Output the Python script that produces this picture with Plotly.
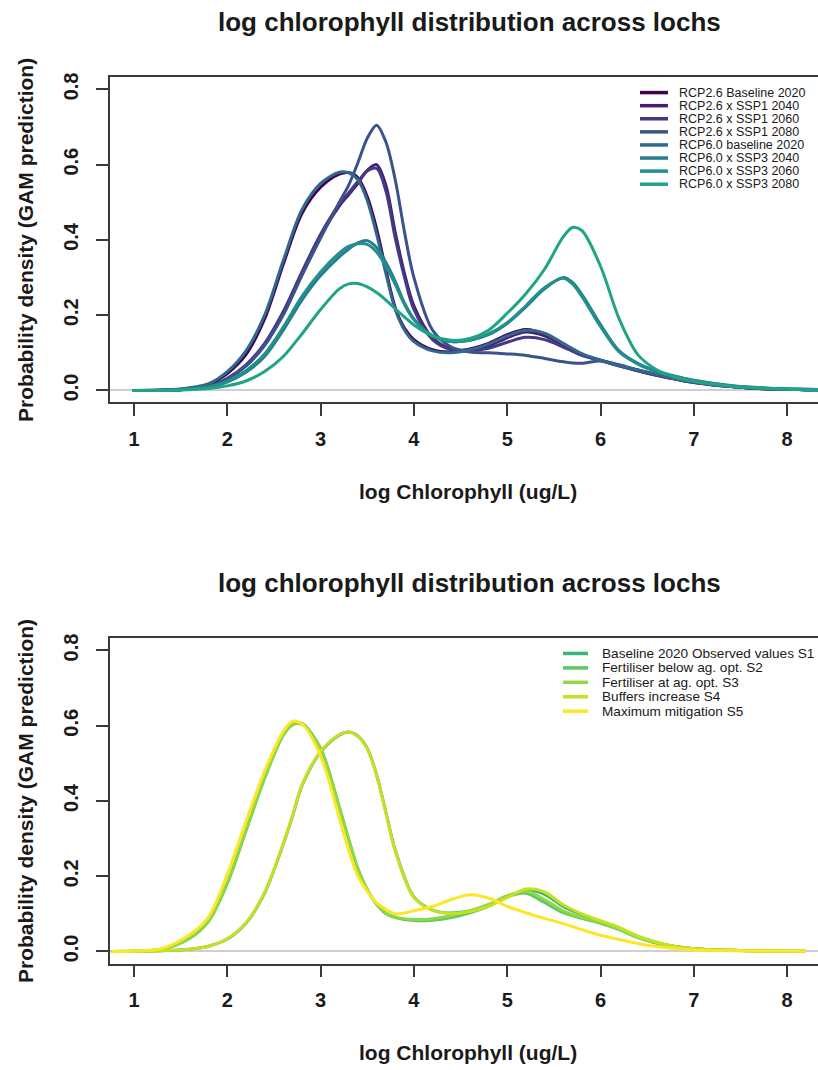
import plotly.graph_objects as go

# ---------------- data: upper panel (climate scenarios) ----------------
TOP_X = [0.98, 1.5, 1.8, 2.0, 2.2, 2.4, 2.6, 2.8, 3.0, 3.2, 3.3, 3.4, 3.5, 3.6, 3.7,
         3.8, 3.9, 4.0, 4.2, 4.4, 4.6, 4.8, 5.0, 5.2, 5.4, 5.6, 5.7, 5.8, 6.0, 6.2, 6.4,
         6.6, 6.8, 7.0, 7.4, 7.8, 8.2, 8.6]

TOP_NAMES = ["RCP2.6 Baseline 2020", "RCP2.6 x SSP1 2040", "RCP2.6 x SSP1 2060",
             "RCP2.6 x SSP1 2080", "RCP6.0 baseline 2020", "RCP6.0 x SSP3 2040",
             "RCP6.0 x SSP3 2060", "RCP6.0 x SSP3 2080"]

rcp26_base = [0.0, 0.003, 0.016, 0.045, 0.095, 0.19, 0.335, 0.47, 0.54, 0.575, 0.579, 0.565,
              0.515, 0.43, 0.32, 0.22, 0.165, 0.135, 0.108, 0.102, 0.11, 0.125, 0.148, 0.162,
              0.15, 0.12, 0.107, 0.095, 0.08, 0.066, 0.054, 0.043, 0.031, 0.022, 0.01, 0.004,
              0.002, 0.001]
rcp26_ssp1_2040 = [0.0, 0.002, 0.01, 0.03, 0.065, 0.12, 0.205, 0.31, 0.41, 0.49, 0.52, 0.55,
                   0.585, 0.60, 0.545, 0.42, 0.31, 0.225, 0.14, 0.11, 0.108, 0.118, 0.14, 0.155,
                   0.145, 0.12, 0.107, 0.095, 0.08, 0.066, 0.052, 0.04, 0.03, 0.021, 0.01, 0.004,
                   0.002, 0.001]
rcp26_ssp1_2060 = [0.0, 0.002, 0.01, 0.032, 0.068, 0.125, 0.21, 0.315, 0.415, 0.495, 0.525, 0.555,
                   0.583, 0.59, 0.53, 0.405, 0.3, 0.215, 0.135, 0.108, 0.105, 0.112, 0.128, 0.141,
                   0.135, 0.115, 0.104, 0.093, 0.079, 0.065, 0.052, 0.04, 0.03, 0.021, 0.01, 0.004,
                   0.002, 0.001]
rcp26_ssp1_2080 = [0.0, 0.002, 0.01, 0.03, 0.065, 0.12, 0.2, 0.305, 0.405, 0.5, 0.545, 0.605,
                   0.67, 0.705, 0.66, 0.56, 0.42, 0.3, 0.16, 0.115, 0.102, 0.1, 0.097, 0.093,
                   0.085, 0.076, 0.073, 0.072, 0.078, 0.068, 0.054, 0.042, 0.031, 0.022, 0.01,
                   0.004, 0.002, 0.001]
rcp60_base = [0.0, 0.004, 0.018, 0.05, 0.105, 0.2, 0.345, 0.48, 0.55, 0.58, 0.578, 0.56,
              0.505, 0.415, 0.31, 0.215, 0.16, 0.13, 0.105, 0.1, 0.108, 0.123, 0.145, 0.16,
              0.152, 0.125, 0.111, 0.098, 0.08, 0.066, 0.054, 0.043, 0.031, 0.022, 0.01, 0.004,
              0.002, 0.001]
rcp60_ssp3_2040 = [0.0, 0.002, 0.008, 0.022, 0.048, 0.09, 0.16, 0.24, 0.305, 0.355, 0.375, 0.392,
                   0.398, 0.38, 0.34, 0.29, 0.232, 0.19, 0.145, 0.13, 0.133, 0.148, 0.178, 0.222,
                   0.27, 0.3, 0.287, 0.255, 0.175, 0.105, 0.072, 0.052, 0.038, 0.027, 0.013,
                   0.006, 0.003, 0.001]
rcp60_ssp3_2060 = [0.0, 0.002, 0.009, 0.024, 0.052, 0.097, 0.168, 0.25, 0.315, 0.365, 0.383, 0.39,
                   0.388, 0.368, 0.33, 0.282, 0.228, 0.188, 0.145, 0.13, 0.133, 0.15, 0.18, 0.225,
                   0.273, 0.298, 0.283, 0.25, 0.17, 0.102, 0.07, 0.05, 0.037, 0.026, 0.012,
                   0.006, 0.003, 0.001]
rcp60_ssp3_2080 = [0.0, 0.001, 0.005, 0.012, 0.025, 0.05, 0.09, 0.15, 0.215, 0.27, 0.283, 0.284,
                   0.275, 0.26, 0.24, 0.217, 0.195, 0.174, 0.145, 0.133, 0.138, 0.16, 0.205, 0.257,
                   0.322, 0.408, 0.433, 0.425, 0.33, 0.19, 0.095, 0.055, 0.035, 0.024, 0.011,
                   0.005, 0.002, 0.001]

TOP_SERIES = [rcp26_base, rcp26_ssp1_2040, rcp26_ssp1_2060, rcp26_ssp1_2080,
              rcp60_base, rcp60_ssp3_2040, rcp60_ssp3_2060, rcp60_ssp3_2080]

# ---------------- data: lower panel (management scenarios) ----------------
BOT_X = [0.76, 1.0, 1.3, 1.6, 1.8, 2.0, 2.2, 2.4, 2.6, 2.7, 2.8, 3.0, 3.2, 3.3, 3.4, 3.5,
         3.6, 3.7, 3.8, 4.0, 4.2, 4.4, 4.6, 4.8, 5.0, 5.2, 5.4, 5.6, 5.8, 6.0, 6.2, 6.4,
         6.6, 6.8, 7.0, 7.4, 7.8, 8.2]

BOT_NAMES = ["Baseline 2020 Observed values S1", "Fertiliser below ag. opt. S2",
             "Fertiliser at ag. opt. S3", "Buffers increase S4", "Maximum mitigation S5"]

s1_baseline = [0.0, 0.0, 0.002, 0.006, 0.014, 0.033, 0.075, 0.155, 0.285, 0.36, 0.44, 0.53,
               0.575, 0.583, 0.572, 0.54, 0.47, 0.37, 0.27, 0.145, 0.11, 0.102, 0.108, 0.122,
               0.145, 0.163, 0.152, 0.12, 0.098, 0.08, 0.062, 0.04, 0.024, 0.013, 0.007, 0.003,
               0.001, 0.0005]
s2_fert_below = [0.0, 0.001, 0.006, 0.035, 0.08, 0.18, 0.32, 0.46, 0.575, 0.603, 0.606, 0.54,
                 0.385, 0.3, 0.22, 0.165, 0.125, 0.1, 0.09, 0.082, 0.083, 0.09, 0.103, 0.12,
                 0.145, 0.155, 0.13, 0.103, 0.088, 0.075, 0.058, 0.037, 0.022, 0.013, 0.007,
                 0.003, 0.001, 0.0005]
s3_fert_at = [0.0, 0.001, 0.006, 0.036, 0.082, 0.183, 0.323, 0.463, 0.576, 0.602, 0.604, 0.537,
              0.382, 0.298, 0.219, 0.165, 0.126, 0.102, 0.092, 0.085, 0.087, 0.095, 0.108, 0.125,
              0.148, 0.16, 0.138, 0.108, 0.09, 0.077, 0.06, 0.038, 0.023, 0.013, 0.007, 0.003,
              0.001, 0.0005]
s4_buffers = [0.0, 0.0, 0.002, 0.006, 0.014, 0.034, 0.076, 0.157, 0.287, 0.362, 0.442, 0.532,
              0.576, 0.583, 0.571, 0.538, 0.468, 0.368, 0.267, 0.143, 0.109, 0.101, 0.106, 0.12,
              0.143, 0.166, 0.158, 0.124, 0.1, 0.082, 0.064, 0.041, 0.025, 0.013, 0.007, 0.003,
              0.001, 0.0005]
s5_max_mitigation = [0.0, 0.001, 0.008, 0.045, 0.092, 0.205, 0.345, 0.479, 0.585, 0.612, 0.605,
                     0.52, 0.355, 0.27, 0.2, 0.16, 0.13, 0.112, 0.1, 0.108, 0.12, 0.138, 0.151,
                     0.142, 0.12, 0.103, 0.088, 0.074, 0.058, 0.043, 0.032, 0.021, 0.013, 0.008,
                     0.004, 0.002, 0.001, 0.0005]

BOT_SERIES = [s1_baseline, s2_fert_below, s3_fert_at, s4_buffers, s5_max_mitigation]

# viridis(13): first eight for the climate panel, last five for management
VIRIDIS13 = ["#440154", "#481F70", "#443A83", "#3B528B", "#31688E", "#287C8E", "#21908C",
             "#20A486", "#35B779", "#5DC863", "#8FD744", "#C7E020", "#FDE725"]
TOP_COLORS = VIRIDIS13[:8]
BOT_COLORS = VIRIDIS13[8:]

X_TICKS = [1, 2, 3, 4, 5, 6, 7, 8]
Y_TICKS = [0.0, 0.2, 0.4, 0.6, 0.8]
Y_TICK_TEXT = ["0.0", "0.2", "0.4", "0.6", "0.8"]

TITLE = "log chlorophyll distribution across lochs"
X_LABEL = "log Chlorophyll (ug/L)"
Y_LABEL = "Probability density (GAM prediction)"

# ---------------- layout geometry (pixels) ----------------
W, H = 818, 1070
FONT = "Liberation Sans, Arial, Helvetica, sans-serif"
INK = "#1a1a1a"
AXIS_INK = "#3a3a3a"


def px_x(p):
    return p / W


def px_y(p):
    return 1 - p / H


panels = [
    dict(top=72.7, bottom=399.3, title=17, xlab=489,
         names=TOP_NAMES, colors=TOP_COLORS, series=TOP_SERIES, xs=TOP_X,
         key0=640, key1=668, text_x=677, row0=88.0, row_step=13.15, leg_font=12.5),
    dict(top=636.4, bottom=963.0, title=581, xlab=1052,
         names=BOT_NAMES, colors=BOT_COLORS, series=BOT_SERIES, xs=BOT_X,
         key0=563, key1=588, text_x=600, row0=651.5, row_step=14.5, leg_font=13.6),
]

fig = go.Figure()
annotations = []
shapes = []
layout_axes = {}

for i, p in enumerate(panels):
    sfx = "" if i == 0 else str(i + 1)
    xa, ya = "x" + sfx, "y" + sfx
    for name, col, ys in zip(p["names"], p["colors"], p["series"]):
        fig.add_trace(go.Scatter(
            x=p["xs"], y=ys, mode="lines", name=name, xaxis=xa, yaxis=ya,
            line=dict(color=col, width=3, shape="spline", smoothing=0.9),
            showlegend=False, hoverinfo="skip"))

    layout_axes["xaxis" + sfx] = dict(
        domain=[px_x(110), 1.0], range=[0.743, 8.331], anchor=ya,
        tickvals=X_TICKS, ticks="outside", ticklen=12, tickwidth=1.5, tickcolor=AXIS_INK,
        showline=True, mirror=True, linecolor=AXIS_INK, linewidth=1.6,
        showgrid=False, zeroline=False, ticklabelstandoff=6,
        tickfont=dict(family=FONT, size=20, color=INK, weight="bold"))
    layout_axes["yaxis" + sfx] = dict(
        domain=[px_y(p["bottom"]), px_y(p["top"])], range=[-0.032, 0.832], anchor=xa,
        tickvals=Y_TICKS, ticktext=Y_TICK_TEXT, tickangle=-90,
        ticks="outside", ticklen=12, tickwidth=1.5, tickcolor=AXIS_INK,
        showline=True, mirror=False, linecolor=AXIS_INK, linewidth=1.6,
        showgrid=False, zeroline=True, zerolinecolor="#cfcfcf", zerolinewidth=1.5,
        ticklabelstandoff=10,
        tickfont=dict(family=FONT, size=20, color=INK, weight="bold"))

    # panel title and axis titles
    annotations.append(dict(
        text="<b>%s</b>" % TITLE, xref="paper", yref="paper",
        x=px_x(469), y=px_y(p["title"]), xanchor="center", yanchor="middle",
        showarrow=False, font=dict(family=FONT, size=26, color=INK)))
    annotations.append(dict(
        text="<b>%s</b>" % X_LABEL, xref="paper", yref="paper",
        x=px_x(468), y=px_y(p["xlab"]), xanchor="center", yanchor="middle",
        showarrow=False, font=dict(family=FONT, size=21, color=INK)))
    annotations.append(dict(
        text="<b>%s</b>" % Y_LABEL, xref="paper", yref="paper", textangle=-90,
        x=px_x(26), y=px_y((p["top"] + p["bottom"]) / 2), xanchor="center", yanchor="middle",
        showarrow=False, font=dict(family=FONT, size=21, color=INK)))

    # compact legend inside the plot box
    for k, (name, col) in enumerate(zip(p["names"], p["colors"])):
        yy = px_y(p["row0"] + k * p["row_step"])
        shapes.append(dict(type="line", xref="paper", yref="paper",
                           x0=px_x(p["key0"]), x1=px_x(p["key1"]), y0=yy, y1=yy,
                           line=dict(color=col, width=3.5)))
        annotations.append(dict(
            text=name, xref="paper", yref="paper", x=px_x(p["text_x"]), y=yy,
            xanchor="left", yanchor="middle", showarrow=False,
            font=dict(family=FONT, size=p["leg_font"], color=INK)))

fig.update_layout(
    width=W, height=H, autosize=False,
    margin=dict(l=0, r=0, t=0, b=0),
    paper_bgcolor="white", plot_bgcolor="white",
    showlegend=False,
    annotations=annotations, shapes=shapes,
    **layout_axes)

fig.write_html("out.html")
